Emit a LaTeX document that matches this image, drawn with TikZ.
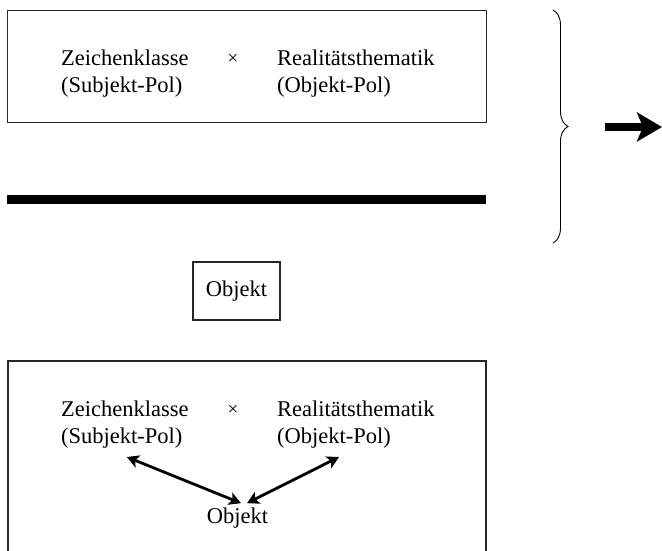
\documentclass[tikz,border=0pt]{standalone}
\usepackage{fontspec}
\setmainfont{Liberation Serif}
\usetikzlibrary{arrows.meta,decorations.pathreplacing}
\begin{document}
\begin{tikzpicture}[x=1pt,y=-1pt,
  frame/.style={draw=black!85,line width=1.2pt},
  lbl/.style={inner sep=0pt,anchor=base west,font=\fontsize{22.5}{27}\selectfont},
  timessign/.style={inner sep=0pt,font=\fontsize{19}{22}\selectfont},
  link/.style={line width=2.8pt,{Stealth[length=12pt,width=13pt,inset=3pt]}-{Stealth[length=12pt,width=13pt,inset=3pt]}},
]
\useasboundingbox (0,0) rectangle (662,550);

% upper frame: sign class x reality thematic
\node[frame,minimum width=479pt,minimum height=112pt,inner sep=0pt,anchor=north west] (topbox) at (7,10) {};
\node[lbl] (zkA) at (61,65) {Zeichenklasse};
\node[lbl] (spA) at (61,92) {(Subjekt-Pol)};
\node[timessign] (xA) at (233,59) {×};
\node[lbl] (rtA) at (277,65) {Realitätsthematik};
\node[lbl] (opA) at (277,92) {(Objekt-Pol)};

% fraction bar
\draw[line width=8.5pt] (7,199.5) -- (486,199.5);

% brace and implication arrow
\draw[decorate,decoration={brace,amplitude=15pt},line width=0.9pt] (553,10) -- (553,243);
\coordinate (arrS) at (605,127);
\coordinate (arrE) at (662,127);
\draw[line width=8pt,-{Stealth[length=25pt,width=29pt,inset=6pt]}] (arrS) -- (arrE);

% isolated object
\node[frame,minimum width=87pt,minimum height=58pt,inner sep=0pt,font=\fontsize{22.5}{27}\selectfont] (objA) at (236.5,291) {\raisebox{-5pt}{Objekt}};

% lower frame, open at the bottom
\draw[frame] (8,555) |- (486,361) -- (486,555);
\node[lbl] (zkB) at (61,416) {Zeichenklasse};
\node[lbl] (spB) at (61,443) {(Subjekt-Pol)};
\node[timessign] (xB) at (233,410) {×};
\node[lbl] (rtB) at (277,416) {Realitätsthematik};
\node[lbl] (opB) at (277,443) {(Objekt-Pol)};
\node[inner sep=0pt,anchor=base,font=\fontsize{22.5}{27}\selectfont] (objB) at (237.5,523) {Objekt};

\draw[link] ([shift={(5pt,-9pt)}]spB.south) -- ([shift={(3.5pt,4pt)}]objB.north);
\draw[link] ([shift={(5pt,-9pt)}]opB.south) -- ([shift={(9.5pt,4pt)}]objB.north);
\end{tikzpicture}
\end{document}
